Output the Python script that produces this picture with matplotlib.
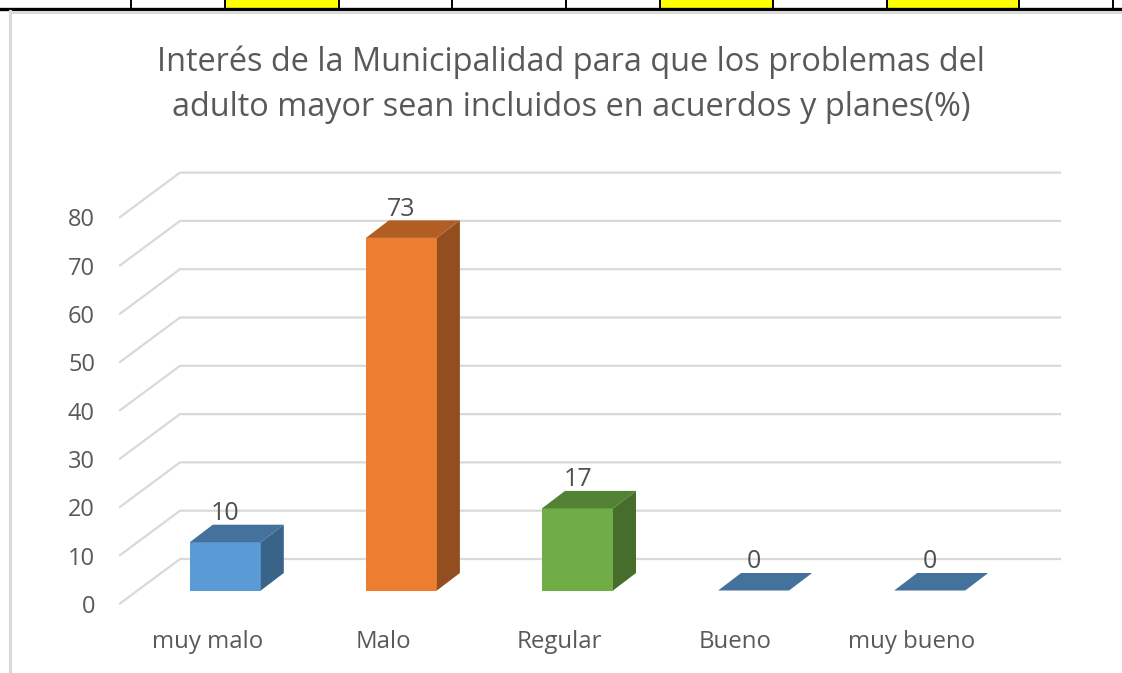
import matplotlib
matplotlib.use("Agg")
import matplotlib.pyplot as plt
from matplotlib.patches import Rectangle

plt.rcParams["font.family"] = ["Open Sans", "DejaVu Sans"]

# ============================================
# DATA
# ============================================
title_lines = ["Interés de la Municipalidad para que los problemas del",
               "adulto mayor sean incluidos en acuerdos y planes(%)"]
categories = ["muy malo", "Malo", "Regular", "Bueno", "muy bueno"]
values = [10, 73, 17, 0, 0]
y_ticks = [0, 10, 20, 30, 40, 50, 60, 70, 80]

front_colors = ["#5B9BD5", "#ED7D31", "#70AD47", "#5B9BD5", "#5B9BD5"]
top_colors = ["#44729D", "#B15D24", "#548235", "#44729D", "#44729D"]
side_colors = ["#3A6389", "#934E1F", "#476D2D", "#3A6389", "#3A6389"]

# table remains above the chart
table_edges = [131, 225, 339, 452, 566, 660, 773, 887, 1019, 1113]
yellow_cells = [(225, 339), (660, 773), (887, 1019)]

# ============================================
# FIGURE
# ============================================
W, H = 1122, 673
fig = plt.figure(figsize=(W / 100, H / 100), dpi=100)

# background layer in pixels: table and chart border
bg = fig.add_axes([0, 0, 1, 1])
bg.set_xlim(0, W)
bg.set_ylim(H, 0)
bg.axis("off")
for a, b in yellow_cells:
    bg.add_patch(Rectangle((a, 0), b - a, 8, color="#FFFF00", lw=0))
for e in table_edges:
    bg.plot([e, e], [0, 8], color="black", lw=1.4)
bg.plot([0, W], [8.5, 8.5], color="black", lw=2.4)
bg.plot([10, W], [11.5, 11.5], color="#D9D9D9", lw=2.2)
bg.plot([10, 10], [11, H], color="#D9D9D9", lw=2.2)

# title lines
bg.text(570.5, 62, title_lines[0], ha="center", va="center", fontsize=23.4, color="#595959")
bg.text(571, 107, title_lines[1], ha="center", va="center", fontsize=23.4, color="#595959")

# chart layer: x in categories, y in percent
px_per_cat = 176.1
px_per_val = 4.83
x0_px, y0_px = 225.3, 590.5
ax = fig.add_axes([0, 0, 1, 1])
ax.patch.set_alpha(0)
ax.set_xlim(-x0_px / px_per_cat, (W - x0_px) / px_per_cat)
ax.set_ylim((y0_px - H) / px_per_val, y0_px / px_per_val)
ax.axis("off")

bar_w = 71 / px_per_cat
dx = 23 / px_per_cat
dy = 17.5 / px_per_val

# grid: back wall lines and floor/side diagonals
front_x = (120 - x0_px) / px_per_cat
back_x = (180 - x0_px) / px_per_cat
end_x = (1060 - x0_px) / px_per_cat
front_y = (y0_px - 603.5) / px_per_val
back_y = (y0_px - 559) / px_per_val
for v in y_ticks:
    ax.plot([front_x, back_x, end_x], [front_y + v, back_y + v, back_y + v],
            color="#D9D9D9", lw=1.6, solid_joinstyle="miter", zorder=1)
    ax.text((95 - x0_px) / px_per_cat, front_y + v - 0.7, str(v), ha="right", va="center",
            fontsize=17, color="#595959")

# bars
for i, v in enumerate(values):
    l = i - bar_w / 2
    r = i + bar_w / 2
    if v > 0:
        ax.bar(i, v, width=bar_w, color=front_colors[i], lw=0, zorder=3)
        ax.fill([r, r + dx, r + dx, r], [0, dy, v + dy, v], color=side_colors[i], lw=0, zorder=3)
    ax.fill([l, r, r + dx, l + dx], [v, v, v + dy, v + dy], color=top_colors[i], lw=0, zorder=3)
    ax.text(i, v + 28.5 / px_per_val, str(v), ha="center", va="center",
            fontsize=18, color="#505050", zorder=4)
    ax.text(i - 18 / px_per_cat, (y0_px - 642) / px_per_val, categories[i], ha="center", va="center",
            fontsize=17.3, color="#595959")

plt.savefig("out.png", dpi=100)
